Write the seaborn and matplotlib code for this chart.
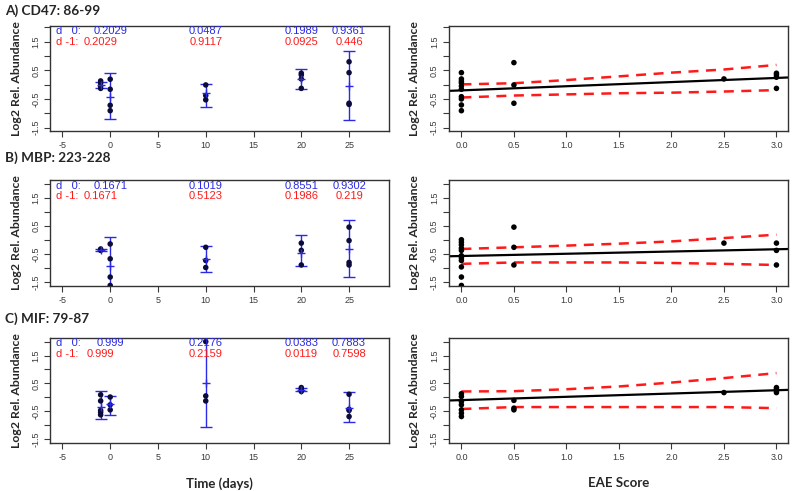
import matplotlib
matplotlib.use("Agg")
import matplotlib.pyplot as plt
import matplotlib.transforms as mtransforms
import numpy as np
import pandas as pd
import seaborn as sns

# ---- data ----
panel_titles = ["A) CD47: 86-99", "B) MBP: 223-228", "C) MIF: 79-87"]

# left panels: abundance per time point (days)
a_time = [-1, -1, -1, -1, 0, 0, 0, 0, 10, 10, 10, 20, 20, 20, 20, 25, 25, 25, 25]
a_abund = [0.13, 0.05, -0.05, -0.13, 0.19, -0.16, -0.72, -0.91, -0.01, -0.38, -0.53,
           0.40, 0.34, 0.20, -0.13, 0.80, 0.42, -0.65, -0.69]
b_time = [-1, -1, 0, 0, 0, 0, 10, 10, 10, 20, 20, 20, 25, 25, 25, 25]
b_abund = [-0.32, -0.37, -0.14, -0.67, -1.32, -1.62, -0.26, -0.73, -0.98,
           -0.11, -0.37, -0.89, 0.46, -0.02, -0.80, -0.89]
c_time = [-1, -1, -1, -1, -1, 0, 0, 0, 10, 10, 10, 20, 20, 20, 25, 25, 25, 25]
c_abund = [0.09, -0.13, -0.47, -0.54, -0.63, 0.01, -0.27, -0.45, 2.00, 0.05, -0.13,
           0.35, 0.29, 0.21, 0.11, -0.43, -0.47, -0.69]

# interval bars (mean and 95% limits) per time point
a_bar_x = [-1, 0, 10, 20, 25]
a_bar_mean = [0.0, -0.42, -0.30, 0.20, -0.03]
a_bar_lo = [-0.11, -1.20, -0.77, -0.15, -1.23]
a_bar_hi = [0.11, 0.40, 0.02, 0.55, 1.17]
b_bar_x = [-1, 0, 10, 20, 25]
b_bar_mean = [-0.35, -0.94, -0.66, -0.46, -0.31]
b_bar_lo = [-0.38, -2.00, -1.14, -0.94, -1.32]
b_bar_hi = [-0.32, 0.11, -0.23, 0.19, 0.70]
c_bar_x = [-1, 0, 10, 20, 25]
c_bar_mean = [-0.34, -0.24, 0.51, 0.28, -0.37]
c_bar_lo = [-0.78, -0.65, -1.08, 0.22, -0.89]
c_bar_hi = [0.21, 0.05, 2.50, 0.34, 0.19]

# p-value annotations
a_p0 = ["0.2029", "0.0487", "0.1989", "0.9361"]
a_p1 = ["0.2029", "0.9117", "0.0925", "0.446"]
b_p0 = ["0.1671", "0.1019", "0.8551", "0.9302"]
b_p1 = ["0.1671", "0.5123", "0.1986", "0.219"]
c_p0 = ["0.999", "0.2176", "0.0383", "0.7883"]
c_p1 = ["0.999", "0.2159", "0.0119", "0.7598"]
p0_x = [0, 10, 20, 25]
p1_x = [-1, 10, 20, 25]

# right panels: abundance vs EAE score
a_eae = [0, 0, 0, 0, 0, 0, 0, 0, 0, 0, 0.5, 0.5, 0.5, 2.5, 3, 3, 3, 3]
a_eae_abund = [0.42, 0.20, 0.12, 0.06, -0.05, -0.16, -0.42, -0.50, -0.71, -0.91,
               0.77, -0.01, -0.65, 0.20, 0.40, 0.34, 0.26, -0.13]
b_eae = [0, 0, 0, 0, 0, 0, 0, 0, 0, 0, 0, 0.5, 0.5, 0.5, 2.5, 3, 3, 3]
b_eae_abund = [0.01, -0.08, -0.17, -0.29, -0.37, -0.56, -0.64, -0.73, -0.96, -1.32, -1.62,
               0.46, -0.26, -0.89, -0.11, -0.11, -0.37, -0.89]
c_eae = [0, 0, 0, 0, 0, 0, 0, 0.5, 0.5, 0.5, 2.5, 3, 3, 3, 3]
c_eae_abund = [0.13, 0.03, -0.15, -0.27, -0.45, -0.57, -0.69, -0.11, -0.39, -0.45,
               0.17, 0.35, 0.29, 0.23, 0.17]

# fitted line (intercept, slope) and confidence limits
a_fit = (-0.20, 0.145)
b_fit = (-0.57, 0.08)
c_fit = (-0.10, 0.118)
ci_x = [0, 0.5, 1.0, 1.5, 2.0, 2.5, 3.0]
a_ci_hi = [0.01, 0.05, 0.16, 0.29, 0.42, 0.53, 0.69]
a_ci_lo = [-0.45, -0.38, -0.34, -0.30, -0.28, -0.24, -0.19]
b_ci_hi = [-0.32, -0.26, -0.20, -0.13, -0.05, 0.07, 0.19]
b_ci_lo = [-0.85, -0.80, -0.80, -0.80, -0.82, -0.85, -0.89]
c_ci_hi = [0.21, 0.22, 0.29, 0.39, 0.53, 0.69, 0.87]
c_ci_lo = [-0.42, -0.35, -0.35, -0.35, -0.35, -0.35, -0.39]

y_limits = [(-1.62, 2.05), (-1.64, 2.14), (-1.64, 2.13)]

sns.set_style("ticks")
plt.rcParams["font.family"] = ["Liberation Sans", "DejaVu Sans"]
plt.rcParams["axes.unicode_minus"] = False

fig = plt.figure(figsize=(8, 4.91), dpi=100)

rows = [
    (a_time, a_abund, a_bar_x, a_bar_mean, a_bar_lo, a_bar_hi, a_p0, a_p1,
     a_eae, a_eae_abund, a_fit, a_ci_hi, a_ci_lo),
    (b_time, b_abund, b_bar_x, b_bar_mean, b_bar_lo, b_bar_hi, b_p0, b_p1,
     b_eae, b_eae_abund, b_fit, b_ci_hi, b_ci_lo),
    (c_time, c_abund, c_bar_x, c_bar_mean, c_bar_lo, c_bar_hi, c_p0, c_p1,
     c_eae, c_eae_abund, c_fit, c_ci_hi, c_ci_lo),
]
bottoms = [0.7332, 0.4175, 0.0978]
heights = [0.2138, 0.2159, 0.2138]
title_y = [0.979, 0.678, 0.352]
blue = "#2a2ae6"
red = "#ff1a1a"

def style_axis(ax, ylim):
    ax.set_ylim(*ylim)
    ax.set_yticks([-1.5, -1.0, -0.5, 0, 0.5, 1.0, 1.5, 2.0])
    ax.set_yticklabels(["-1.5", "", "-0.5", "", "0.5", "", "1.5", ""],
                       rotation=90, va="center")
    ax.tick_params(axis="both", labelsize=6.5, length=4, width=0.8,
                   colors="#3a3a3a", pad=3)
    for s in ax.spines.values():
        s.set_visible(True)
        s.set_linewidth(1.0)
        s.set_color("#333333")
    ax.set_ylabel("Log2 Rel. Abundance", fontsize=8.8, fontweight="bold",
                  family=["Lato", "DejaVu Sans"], labelpad=7)
    ax.set_xlabel("")

for i, row in enumerate(rows):
    (t, ab, bx, bm, blo, bhi, p0, p1, eae, eab, fit, cihi, cilo) = row

    # left: time course
    ax = fig.add_axes([0.0625, bottoms[i], 0.424, heights[i]])
    df = pd.DataFrame({"time": t, "abund": ab})
    sns.scatterplot(data=df, x="time", y="abund", ax=ax, color="#0c0c3a",
                    s=16, edgecolor="none", zorder=3)
    bx = np.array(bx)
    bm = np.array(bm)
    ax.errorbar(bx, bm, yerr=[bm - np.array(blo), np.array(bhi) - bm],
                fmt="none", ecolor=blue, elinewidth=1.0, capsize=4,
                capthick=1.0, zorder=2)
    ax.scatter(bx, bm, marker="+", color=blue, s=30, linewidths=1.0, zorder=5)
    ax.set_xlim(-6.3, 29.2)
    ax.set_xticks([-5, 0, 5, 10, 15, 20, 25])
    style_axis(ax, y_limits[i])
    trans = mtransforms.blended_transform_factory(ax.transData, ax.transAxes)
    ax.text(-5.7, 0.948, "d   0:", color=blue, fontsize=8, ha="left",
            va="center", transform=trans)
    ax.text(-5.7, 0.845, "d -1:", color=red, fontsize=8, ha="left",
            va="center", transform=trans)
    for x, lab in zip(p0_x, p0):
        ax.text(x, 0.948, lab, color=blue, fontsize=8, ha="center",
                va="center", transform=trans)
    for x, lab in zip(p1_x, p1):
        ax.text(x, 0.845, lab, color=red, fontsize=8, ha="center",
                va="center", transform=trans)
    if i == 2:
        ax.set_xlabel("Time (days)", fontsize=9.5, fontweight="bold",
                      family=["Lato", "DejaVu Sans"], labelpad=11)

    fig.text(0.006, title_y[i], panel_titles[i], fontsize=9.8, fontweight="bold",
             family=["Lato", "DejaVu Sans"], ha="left", va="center")

    # right: abundance vs EAE score
    ax2 = fig.add_axes([0.561, bottoms[i], 0.424, heights[i]])
    df2 = pd.DataFrame({"eae": eae, "abund": eab})
    sns.scatterplot(data=df2, x="eae", y="abund", ax=ax2, color="black",
                    s=16, edgecolor="none", zorder=3)
    ax2.axline((0, fit[0]), slope=fit[1], color="black", lw=1.6, zorder=2)
    ci = pd.DataFrame({"x": ci_x, "hi": cihi, "lo": cilo})
    sns.lineplot(data=ci, x="x", y="hi", ax=ax2, color=red, lw=1.8,
                 linestyle=(0, (4, 3)))
    sns.lineplot(data=ci, x="x", y="lo", ax=ax2, color=red, lw=1.8,
                 linestyle=(0, (4, 3)))
    ax2.set_xlim(-0.12, 3.11)
    ax2.set_xticks([0, 0.5, 1.0, 1.5, 2.0, 2.5, 3.0])
    ax2.set_xticklabels(["0.0", "0.5", "1.0", "1.5", "2.0", "2.5", "3.0"])
    style_axis(ax2, y_limits[i])
    if i == 2:
        ax2.set_xlabel("EAE Score", fontsize=9.5, fontweight="bold",
                       family=["Lato", "DejaVu Sans"], labelpad=11)

fig.savefig("out.png", dpi=100)
